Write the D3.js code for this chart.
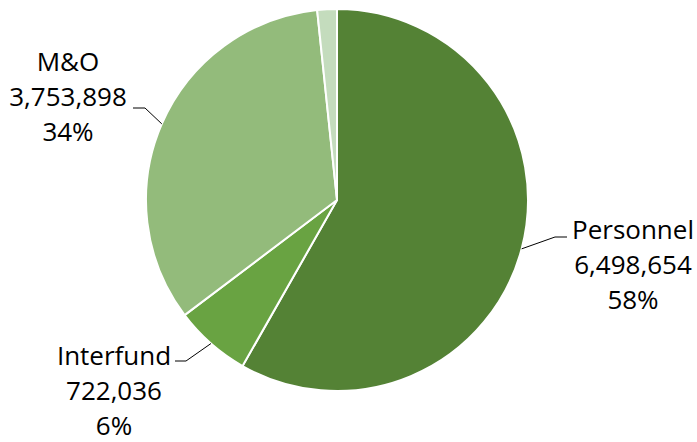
<!DOCTYPE html>
<html>
<head>
<meta charset="utf-8">
<script src="https://cdn.jsdelivr.net/npm/d3@7"></script>
<style>
  html, body { margin: 0; padding: 0; background: #fff; }
  svg text { font-family: "Open Sans", sans-serif; fill: #000; }
</style>
</head>
<body>
<svg id="chart" width="697" height="442"></svg>
<script>
// ---- data ----
const categories = ["Personnel", "Interfund", "M&O", "Other"];
const values = [6498654, 722036, 3753898, 185000];
const percentLabels = ["58%", "6%", "34%", ""];
const showLabel = [true, true, true, false];
const colors = ["#548235", "#69a342", "#93bb7b", "#c4dcbd"];

// ---- layout ----
const W = 697, H = 442;
const cx = 337, cy = 200, R = 191;
const fontSize = 26, lineH = 35;
// label layout: text center x, first baseline y, elbow point, side
const labelLayout = {
  "Personnel": { tx: 633, ty: 239, ex: 555, ey: 237, hx: 567 },
  "Interfund": { tx: 114, ty: 365, ex: 186, ey: 361, hx: 175 },
  "M&O":       { tx: 68,  ty: 71,  ex: 145, ey: 108, hx: 133 }
};

const svg = d3.select("#chart");
const g = svg.append("g").attr("transform", `translate(${cx},${cy})`);

const pie = d3.pie().sort(null).value(d => d.value).startAngle(0).endAngle(2 * Math.PI);
const data = categories.map((c, i) => ({ name: c, value: values[i], pct: percentLabels[i], show: showLabel[i], color: colors[i] }));
const arcs = pie(data);
const arc = d3.arc().innerRadius(0).outerRadius(R);

g.selectAll("path.slice").data(arcs).join("path")
  .attr("class", "slice")
  .attr("d", arc)
  .attr("fill", d => d.data.color)
  .attr("stroke", "#fff")
  .attr("stroke-width", 2)
  .attr("stroke-linejoin", "round");

const fmt = d3.format(",");

arcs.filter(d => d.data.show).forEach(d => {
  const L = labelLayout[d.data.name];
  const mid = (d.startAngle + d.endAngle) / 2;
  const px = cx + R * Math.sin(mid), py = cy - R * Math.cos(mid);
  svg.append("polyline")
    .attr("points", `${px},${py} ${L.ex},${L.ey} ${L.hx},${L.ey}`)
    .attr("fill", "none")
    .attr("stroke", "#000")
    .attr("stroke-width", 1);
  const t = svg.append("text")
    .attr("x", L.tx).attr("y", L.ty)
    .attr("text-anchor", "middle")
    .style("font-size", fontSize + "px");
  [d.data.name, fmt(d.data.value), d.data.pct].forEach((s, i) => {
    t.append("tspan").attr("x", L.tx).attr("y", L.ty + i * lineH).text(s);
  });
});
</script>
</body>
</html>
